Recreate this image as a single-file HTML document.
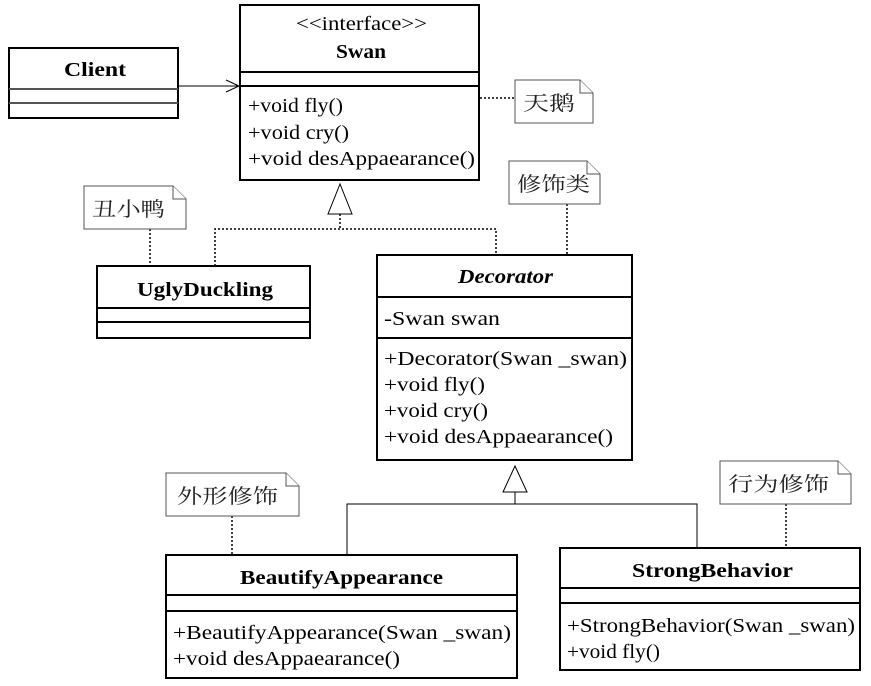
<!DOCTYPE html>
<html><head><meta charset="utf-8"><style>
html,body{margin:0;padding:0;background:#fff;}
svg{display:block}
text{font-family:"Liberation Serif","Noto Serif CJK SC",serif;font-size:20px;fill:#000}
.b{font-weight:bold}
.cj{font-family:"Liberation Serif","Noto Serif CJK SC","Noto Sans CJK SC",serif;fill:#222}
</style></head><body>
<svg width="871" height="686" viewBox="0 0 871 686" xmlns="http://www.w3.org/2000/svg">
<g fill="none" stroke="#000" stroke-width="2">
<rect x="9" y="48" width="169" height="70"/>
<line x1="9" y1="89" x2="178" y2="89" stroke="#555"/><line x1="9" y1="103" x2="178" y2="103" stroke="#555"/>
<rect x="240" y="5" width="239" height="175"/>
<line x1="240" y1="72" x2="479" y2="72"/><line x1="240" y1="86" x2="479" y2="86"/>
<rect x="97" y="266" width="213" height="72"/>
<line x1="97" y1="308" x2="310" y2="308"/><line x1="97" y1="322" x2="310" y2="322"/>
<rect x="377" y="255" width="255" height="205"/>
<line x1="377" y1="297" x2="632" y2="297"/><line x1="377" y1="338" x2="632" y2="338"/>
<rect x="166" y="555" width="351" height="123"/>
<line x1="166" y1="595" x2="517" y2="595"/><line x1="166" y1="611" x2="517" y2="611"/>
<rect x="560" y="548" width="300" height="122"/>
<line x1="560" y1="588" x2="860" y2="588"/><line x1="560" y1="603" x2="860" y2="603"/>
</g>
<g stroke="#000" stroke-width="1" fill="none">
<line x1="178" y1="86" x2="239" y2="86"/>
<polyline points="226,80 239,86 226,92"/>
<polygon points="340,184 328,214 352,214" fill="#fff"/>
<polygon points="515,466 503,492 527,492" fill="#fff"/>
<line x1="515" y1="492" x2="515" y2="504"/>
<polyline points="347,555 347,504 697,504 697,548"/>
</g>
<g stroke="#000" stroke-width="1.5" fill="none" stroke-dasharray="2,2">
<line x1="340" y1="214" x2="340" y2="229"/>
<polyline points="215,266 215,229 496,229 496,255"/>
<line x1="480" y1="98" x2="515" y2="98"/>
<line x1="567" y1="204" x2="567" y2="255"/>
<line x1="150" y1="229" x2="150" y2="266"/>
<line x1="232" y1="516" x2="232" y2="555"/>
<line x1="786" y1="504" x2="786" y2="548"/>
</g>
<g fill="#fff" stroke="#555" stroke-width="1">
<path d="M515,80 H580 L593,93 V123 H515 Z"/><path d="M580,80 V93 H593"/>
<path d="M509,161 H587 L600,174 V204 H509 Z"/><path d="M587,161 V174 H600"/>
<path d="M84,186 H173 L186,199 V229 H84 Z"/><path d="M173,186 V199 H186"/>
<path d="M166,473 H286 L299,486 V516 H166 Z"/><path d="M286,473 V486 H299"/>
<path d="M720,461 H838 L851,474 V504 H720 Z"/><path d="M838,461 V474 H851"/>
</g>
<g lengthAdjust="spacingAndGlyphs">
<text class="cj" x="523" y="110" textLength="52" lengthAdjust="spacingAndGlyphs">天鹅</text>
<text class="cj" x="517" y="191" textLength="73" lengthAdjust="spacingAndGlyphs">修饰类</text>
<text class="cj" x="92" y="216" textLength="73" lengthAdjust="spacingAndGlyphs">丑小鸭</text>
<text class="cj" x="177" y="503" textLength="101" lengthAdjust="spacingAndGlyphs">外形修饰</text>
<text class="cj" x="728" y="491" textLength="101" lengthAdjust="spacingAndGlyphs">行为修饰</text>
<text class="b" x="64" y="76" textLength="62" lengthAdjust="spacingAndGlyphs">Client</text>
<text x="296" y="30" textLength="131" lengthAdjust="spacingAndGlyphs">&lt;&lt;interface&gt;&gt;</text>
<text class="b" x="336" y="58" textLength="50" lengthAdjust="spacingAndGlyphs">Swan</text>
<text x="248" y="112" textLength="95" lengthAdjust="spacingAndGlyphs">+void fly()</text>
<text x="248" y="139" textLength="101" lengthAdjust="spacingAndGlyphs">+void cry()</text>
<text x="248" y="165" textLength="227" lengthAdjust="spacingAndGlyphs">+void desAppaearance()</text>
<text class="b" x="137" y="296" textLength="136" lengthAdjust="spacingAndGlyphs">UglyDuckling</text>
<text class="b" x="458" y="283" font-style="italic" textLength="95" lengthAdjust="spacingAndGlyphs">Decorator</text>
<text x="384" y="325" textLength="116" lengthAdjust="spacingAndGlyphs">-Swan swan</text>
<text x="384" y="365" textLength="243" lengthAdjust="spacingAndGlyphs">+Decorator(Swan _swan)</text>
<text x="384" y="391" textLength="101" lengthAdjust="spacingAndGlyphs">+void fly()</text>
<text x="384" y="417" textLength="104" lengthAdjust="spacingAndGlyphs">+void cry()</text>
<text x="384" y="443" textLength="229" lengthAdjust="spacingAndGlyphs">+void desAppaearance()</text>
<text class="b" x="240" y="584" textLength="203" lengthAdjust="spacingAndGlyphs">BeautifyAppearance</text>
<text x="173" y="639" textLength="338" lengthAdjust="spacingAndGlyphs">+BeautifyAppearance(Swan _swan)</text>
<text x="173" y="665" textLength="227" lengthAdjust="spacingAndGlyphs">+void desAppaearance()</text>
<text class="b" x="632" y="577" textLength="161" lengthAdjust="spacingAndGlyphs">StrongBehavior</text>
<text x="567" y="632" textLength="288" lengthAdjust="spacingAndGlyphs">+StrongBehavior(Swan _swan)</text>
<text x="567" y="658" textLength="93" lengthAdjust="spacingAndGlyphs">+void fly()</text>
</g>
</svg>
</body></html>
